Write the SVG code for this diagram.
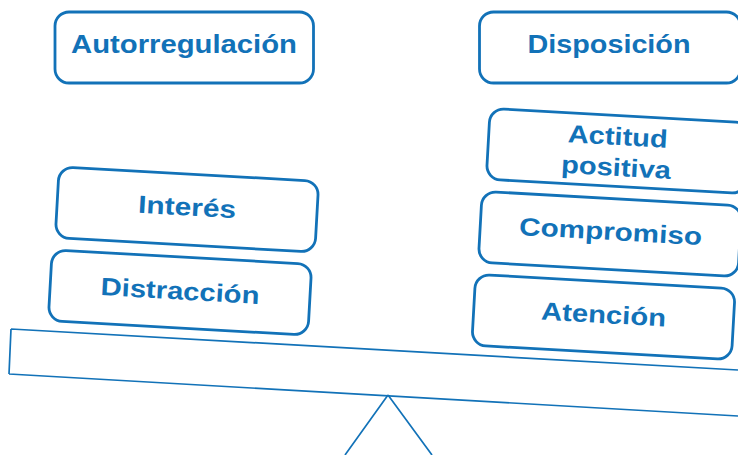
<svg xmlns="http://www.w3.org/2000/svg" width="738" height="455" viewBox="0 0 738 455">
<style>
.b{fill:#fff;stroke:#1272b8;stroke-width:2.8}
.l{fill:none;stroke:#1272b8;stroke-width:1.7}
text{font-family:"Liberation Sans",Arial,sans-serif;font-weight:700;font-size:25px;fill:#1272b8;text-anchor:middle}
</style>
<rect width="738" height="455" fill="#fff"/>
<g id="connectors">
<path class="l" d="M11 329L738 370M9 374L738 416M11 329L9 374"/>
<path class="l" d="M388 395L345 455M388 395L432 455"/>
</g>
<g id="n1"><rect class="b" x="55" y="12" width="258.500" height="71" rx="14"/><text x="184" y="53" textLength="226" lengthAdjust="spacingAndGlyphs">Autorregulación</text></g>
<g id="n2"><rect class="b" x="479.500" y="12" width="261" height="71" rx="14"/><text x="609" y="53" textLength="163" lengthAdjust="spacingAndGlyphs">Disposición</text></g>
<g id="n3" transform="translate(187 209.500) rotate(3.2)"><rect class="b" x="-130" y="-35.5" width="260" height="71" rx="14"/><text x="0" y="6" textLength="98" lengthAdjust="spacingAndGlyphs">Interés</text></g>
<g id="n4" transform="translate(180 292.500) rotate(3.2)"><rect class="b" x="-130" y="-35.5" width="260" height="71" rx="14"/><text x="0" y="7" textLength="159" lengthAdjust="spacingAndGlyphs">Distracción</text></g>
<g id="n5" transform="translate(618 151) rotate(3.2)"><rect class="b" x="-130" y="-35.5" width="260" height="71" rx="14"/><text x="-1" y="-6" textLength="100" lengthAdjust="spacingAndGlyphs">Actitud</text><text x="-1" y="25" textLength="110" lengthAdjust="spacingAndGlyphs">positiva</text></g>
<g id="n6" transform="translate(610 234) rotate(3.2)"><rect class="b" x="-130" y="-35.5" width="260" height="71" rx="14"/><text x="0.500" y="6" textLength="183" lengthAdjust="spacingAndGlyphs">Compromiso</text></g>
<g id="n7" transform="translate(603.500 317) rotate(3.2)"><rect class="b" x="-130" y="-35.5" width="260" height="71" rx="14"/><text x="0" y="6" textLength="125" lengthAdjust="spacingAndGlyphs">Atención</text></g>
</svg>
